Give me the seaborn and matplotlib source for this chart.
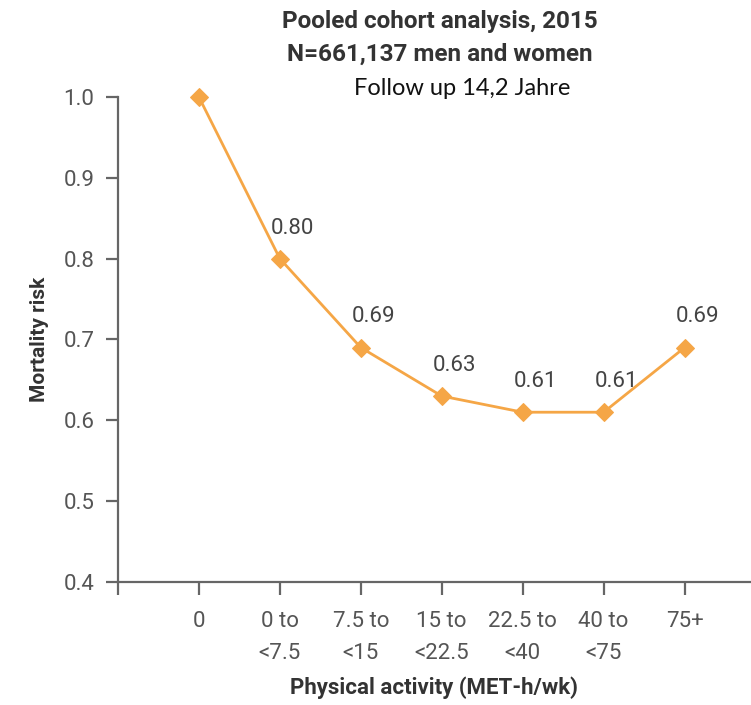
import matplotlib
matplotlib.use("Agg")
import matplotlib.pyplot as plt
import seaborn as sns
import pandas as pd
import numpy as np

categories = ["0", "0 to\n<7.5", "7.5 to\n<15", "15 to\n<22.5", "22.5 to\n<40", "40 to\n<75", "75+"]
risk = [1.00, 0.80, 0.69, 0.63, 0.61, 0.61, 0.69]
value_labels = ["", "0.80", "0.69", "0.63", "0.61", "0.61", "0.69"]
y_ticks = [0.4, 0.5, 0.6, 0.7, 0.8, 0.9, 1.0]

sns.set_style("ticks")
plt.rcParams["font.family"] = ["Roboto", "DejaVu Sans"]

df = pd.DataFrame({"pos": np.arange(len(categories)), "risk": risk})

fig = plt.figure(figsize=(7.51, 7.05), dpi=100)
ax = fig.add_axes([0.157, 0.1745, 0.843, 0.688])

orange = "#F5A646"
sns.lineplot(data=df, x="pos", y="risk", ax=ax, color=orange, linewidth=2,
             marker="D", markersize=9, markeredgecolor=orange, markerfacecolor=orange)
for ln in ax.lines:
    ln.set_clip_on(False)

for x, y, t in zip(df["pos"], df["risk"], value_labels):
    if t:
        ax.annotate(t, (x, y), xytext=(9, 22), textcoords="offset points",
                    ha="center", va="center", fontsize=16, color="#444444")

ax.set_xlim(-1, 6.82)
ax.set_ylim(0.4, 1.0)
ax.set_yticks(y_ticks)
ax.set_yticklabels([f"{v:.1f}" for v in y_ticks])
ax.set_xticks(np.arange(-1, len(categories)))
ax.set_xticklabels([""] + categories)

for s in ["top", "right"]:
    ax.spines[s].set_visible(False)
for s in ["left", "bottom"]:
    ax.spines[s].set_color("#666666")
    ax.spines[s].set_linewidth(1.6)
ax.tick_params(axis="both", colors="#666666", width=1.6, length=9,
               labelsize=16, labelcolor="#555555")
ax.tick_params(axis="x", pad=12)
ax.tick_params(axis="y", pad=8)
for lab in ax.get_xticklabels():
    lab.set_linespacing(1.65)

ax.set_xlabel("Physical activity (MET-h/wk)", fontsize=16, fontweight="bold",
              color="#333333", labelpad=9)
ax.set_ylabel("Mortality risk", fontsize=15, fontweight="bold", color="#333333", labelpad=10)

fig.text(0.586, 0.970, "Pooled cohort analysis, 2015", ha="center", va="center",
         fontsize=17.5, fontweight="bold", color="#333333")
fig.text(0.586, 0.923, "N=661,137 men and women", ha="center", va="center",
         fontsize=17.5, fontweight="bold", color="#333333")
fig.text(0.615, 0.875, "Follow up 14,2 Jahre", ha="center", va="center",
         fontsize=17, color="#111111", family=["Lato", "DejaVu Sans"])

fig.savefig("out.png", dpi=100)
